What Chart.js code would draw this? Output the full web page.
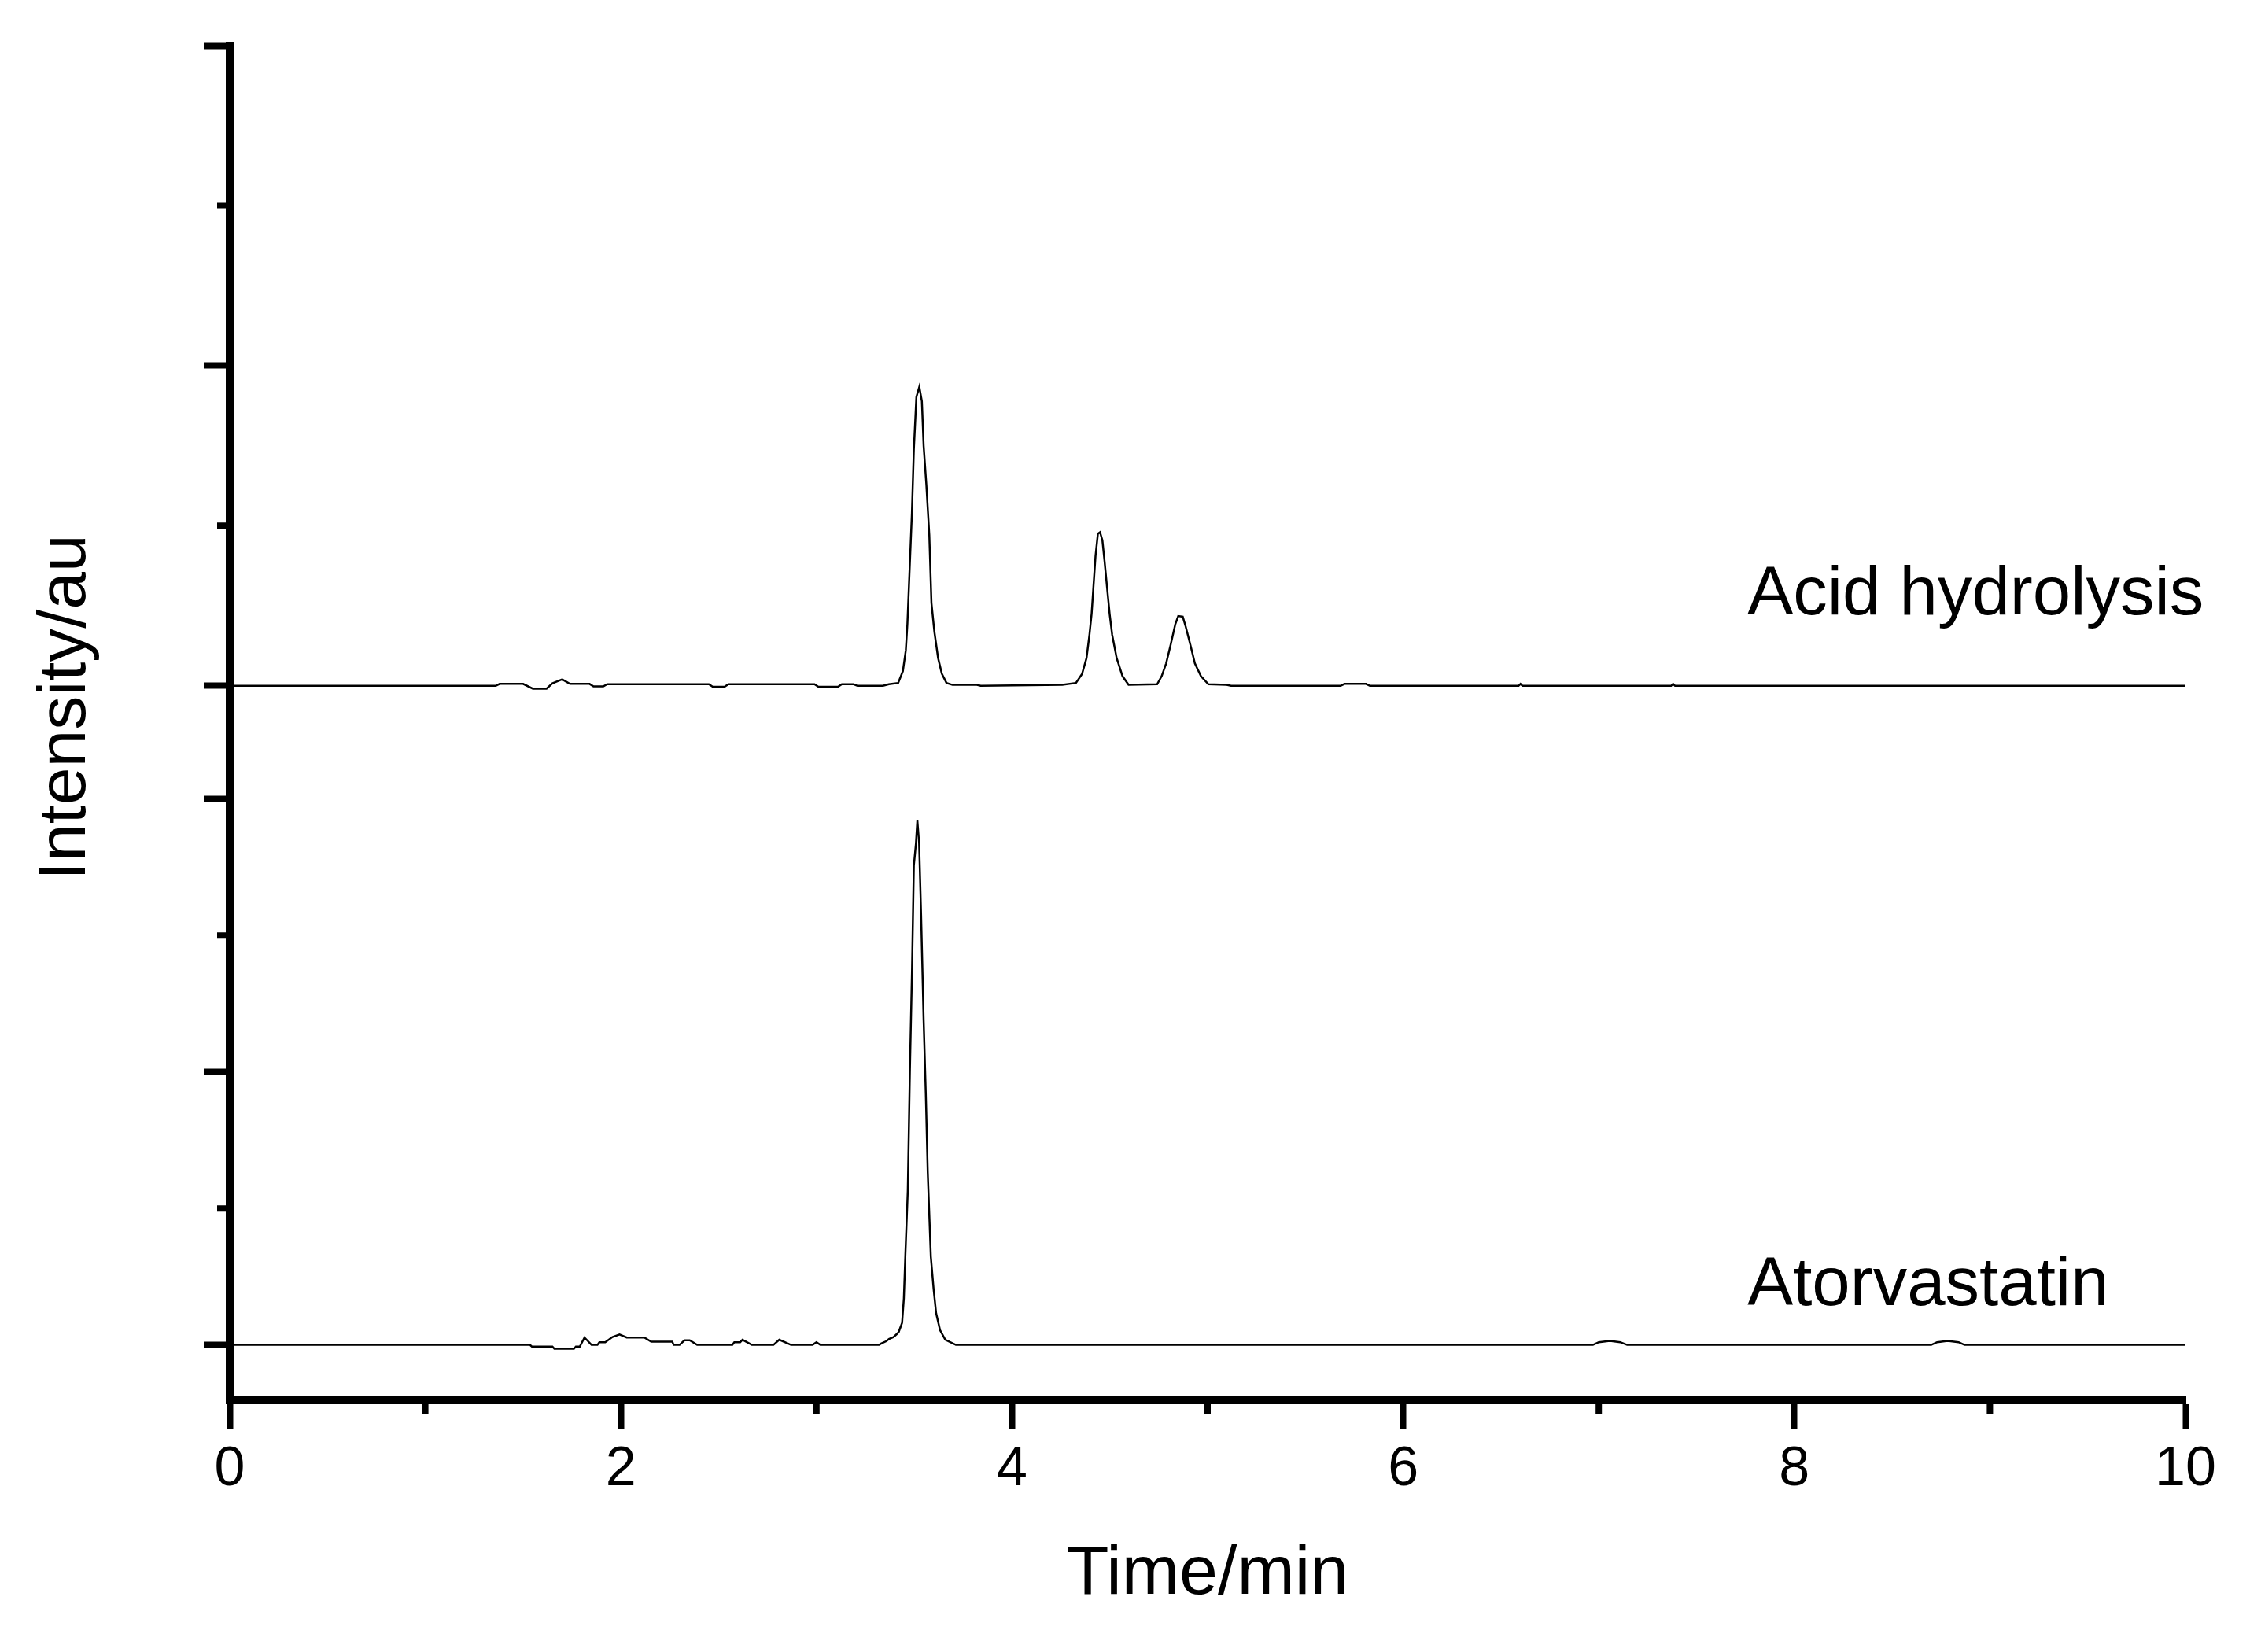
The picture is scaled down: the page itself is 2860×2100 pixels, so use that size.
<!DOCTYPE html>
<html>
<head>
<meta charset="utf-8">
<title>Atorvastatin - acid hydrolysis</title>
<script src="https://cdn.jsdelivr.net/npm/chart.js@4.4.1/dist/chart.umd.min.js"></script>
<style>
  html, body { margin: 0; padding: 0; background: #fff; }
  #chart { display: block; }
</style>
</head>
<body>
<canvas id="chart" width="2860" height="2100"></canvas>
<script>
// traces: time in min, intensity in a.u. (baseline = 0)
const acidTime = [
  0, 1.36, 1.38, 1.50, 1.55, 1.62, 1.65, 1.70, 1.74, 1.84,
  1.86, 1.91, 1.93, 2.45, 2.47, 2.53, 2.55, 2.99, 3.01, 3.11,
  3.13, 3.19, 3.21, 3.34, 3.37, 3.418, 3.442, 3.457, 3.465, 3.477,
  3.488, 3.498, 3.511, 3.526, 3.539, 3.548, 3.562, 3.577, 3.588, 3.603,
  3.622, 3.641, 3.665, 3.696, 3.82, 3.84, 4.257, 4.327, 4.358, 4.381,
  4.396, 4.407, 4.416, 4.427, 4.439, 4.450, 4.462, 4.473, 4.486, 4.499,
  4.512, 4.535, 4.565, 4.596, 4.742, 4.765, 4.788, 4.811, 4.835, 4.850,
  4.873, 4.888, 4.912, 4.935, 4.966, 5.004, 5.097, 5.12, 5.68, 5.70,
  5.81, 5.83, 6.59, 6.60, 6.61, 7.37, 7.38, 7.39, 10
];
const acidSignal = [
  0, 0, 0.6, 0.6, -0.9, -0.9, 0.8, 2.0, 0.6, 0.6,
  -0.2, -0.2, 0.5, 0.5, -0.3, -0.3, 0.5, 0.5, -0.3, -0.3,
  0.5, 0.5, 0, 0, 0.5, 0.9, 4.6, 11.1, 19.3, 37.3,
  53.7, 73.8, 90.2, 93.4, 88.9, 75, 62.7, 47.2, 25.9, 16.9,
  8.7, 3.8, 0.9, 0.3, 0.3, 0, 0.3, 0.9, 3.7, 8.7,
  16, 22.5, 30.7, 40.6, 47.5, 48, 45.5, 39, 30.7, 22.5,
  16, 8.7, 3, 0.3, 0.5, 3, 7, 12.8, 19.3, 21.8,
  21.6, 18.5, 12.8, 7, 3, 0.5, 0.3, 0, 0, 0.6,
  0.6, 0, 0, 0.6, 0, 0, 0.6, 0, 0
];
const atorTime = [
  0, 1.535, 1.545, 1.65, 1.66, 1.76, 1.77, 1.79, 1.814, 1.85,
  1.88, 1.89, 1.92, 1.957, 1.993, 2.03, 2.12, 2.155, 2.263, 2.27,
  2.30, 2.325, 2.352, 2.39, 2.57, 2.58, 2.61, 2.622, 2.67, 2.78,
  2.81, 2.87, 2.98, 3.00, 3.02, 3.32, 3.331, 3.358, 3.371, 3.394,
  3.411, 3.421, 3.438, 3.447, 3.455, 3.467, 3.478, 3.489, 3.498, 3.509,
  3.516, 3.525, 3.535, 3.548, 3.559, 3.569, 3.585, 3.599, 3.612, 3.632,
  3.659, 3.713, 6.97, 7.00, 7.057, 7.11, 7.145, 8.70, 8.73, 8.784,
  8.84, 8.87, 10
];
const atorSignal = [
  0, 0, -0.6, -0.6, -1.4, -1.4, -0.6, -0.6, 2.7, 0,
  0, 1.0, 1.0, 2.9, 3.8, 2.7, 2.7, 1.2, 1.2, 0,
  0, 1.7, 1.7, 0, 0, 1, 1, 1.9, 0, 0,
  1.9, 0, 0, 1, 0, 0, 0.5, 1.4, 2.2, 2.9,
  4.0, 4.8, 8.1, 17.1, 33.6, 56.4, 101.2, 138.4, 175.6, 183.9,
  192.2, 183.9, 157.7, 119.1, 92.2, 63.3, 32.3, 20.5, 11.6, 5.4,
  1.9, 0, 0, 1.0, 1.5, 1.0, 0, 0, 1.0, 1.5,
  1.0, 0, 0
];

const seriesNames = ['Acid hydrolysis', 'Atorvastatin'];
const xMajorTicks = [0, 2, 4, 6, 8, 10];
const xMinorTicks = [1, 3, 5, 7, 9];
const yMajorTicks = [0, 100, 200];
const yMinorTicks = [50, 150];
// where the trace names sit (time, intensity on each trace's own axis)
const labelTime = [7.76, 7.76];
const labelLevel = [22.2, 14.6];

Chart.defaults.font.family = '"Liberation Sans", Arial, sans-serif';
Chart.defaults.color = '#000';

const toPoints = (xs, ys) => xs.map((x, i) => ({ x: x, y: ys[i] }));

const layerAxis = (weight, min, max) => ({
  type: 'linear',
  position: 'left',
  stack: 'layer',
  stackWeight: weight,
  min: min,
  max: max,
  afterBuildTicks: (s) => { s.ticks = yMajorTicks.map(v => ({ value: v })); },
  afterFit: (s) => { s.width = 40; },
  ticks: { display: false },
  grid: { drawOnChartArea: false, tickLength: 33, tickWidth: 8, tickColor: '#000' },
  border: { color: '#000', width: 10 }
});

const titleAxis = (weight, withTitle) => ({
  type: 'linear',
  position: 'left',
  stack: 'title',
  stackWeight: weight,
  afterFit: (s) => { s.width = 219; },
  ticks: { display: false },
  grid: { display: false },
  border: { display: false },
  title: {
    display: withTitle,
    text: 'Intensity/au',
    color: '#000',
    font: { size: 86 },
    padding: 0
  }
});

// short minor tick marks, placed through the scales
const minorTicks = {
  id: 'minorTicks',
  afterDraw(chart) {
    const ctx = chart.ctx;
    const xs = chart.scales.x;
    ctx.save();
    ctx.strokeStyle = '#000';
    ctx.lineWidth = 8;
    ctx.beginPath();
    xMinorTicks.forEach(v => {
      const px = xs.getPixelForValue(v);
      ctx.moveTo(px, xs.top);
      ctx.lineTo(px, xs.top + 19);
    });
    ['yAcid', 'yAtor'].forEach(id => {
      const s = chart.scales[id];
      yMinorTicks.forEach(v => {
        const py = s.getPixelForValue(v);
        ctx.moveTo(s.right - 16, py);
        ctx.lineTo(s.right, py);
      });
    });
    ctx.stroke();
    ctx.restore();
  }
};

// names written next to each trace
const traceNames = {
  id: 'traceNames',
  afterDatasetsDraw(chart) {
    const ctx = chart.ctx;
    const ids = ['yAcid', 'yAtor'];
    ctx.save();
    ctx.fillStyle = '#000';
    ctx.font = '87px "Liberation Sans", Arial, sans-serif';
    ctx.textAlign = 'left';
    ctx.textBaseline = 'alphabetic';
    seriesNames.forEach((name, i) => {
      const px = chart.scales.x.getPixelForValue(labelTime[i]);
      const py = chart.scales[ids[i]].getPixelForValue(labelLevel[i]);
      ctx.fillText(name, px, py);
    });
    ctx.restore();
  }
};

new Chart(document.getElementById('chart'), {
  type: 'line',
  data: {
    datasets: [
      {
        label: seriesNames[0],
        data: toPoints(acidTime, acidSignal),
        yAxisID: 'yAcid',
        borderColor: '#000',
        borderWidth: 2.5,
        pointRadius: 0,
        tension: 0,
        fill: false
      },
      {
        label: seriesNames[1],
        data: toPoints(atorTime, atorSignal),
        yAxisID: 'yAtor',
        borderColor: '#000',
        borderWidth: 2.5,
        pointRadius: 0,
        tension: 0,
        fill: false
      }
    ]
  },
  options: {
    responsive: false,
    animation: false,
    layout: { padding: { left: 33, right: 82, top: 58, bottom: 0 } },
    plugins: {
      legend: { display: false },
      tooltip: { enabled: false }
    },
    scales: {
      x: {
        type: 'linear',
        position: 'bottom',
        min: 0,
        max: 10,
        afterBuildTicks: (s) => { s.ticks = xMajorTicks.map(v => ({ value: v })); },
        afterFit: (s) => { s.height = 321; },
        grid: { drawOnChartArea: false, tickLength: 37, tickWidth: 8, tickColor: '#000' },
        border: { color: '#000', width: 11 },
        ticks: { color: '#000', padding: 11, autoSkip: false, maxRotation: 0, font: { size: 70 } },
        title: {
          display: true,
          text: 'Time/min',
          color: '#000',
          font: { size: 88 },
          padding: { top: 0, bottom: 45 }
        }
      },
      yAtor: layerAxis(836, -20, 221),
      yAcid: layerAxis(885, -17.5, 200),
      yTitlePad: titleAxis(39, false),
      yTitle: titleAxis(1682, true)
    }
  },
  plugins: [minorTicks, traceNames]
});
</script>
</body>
</html>
